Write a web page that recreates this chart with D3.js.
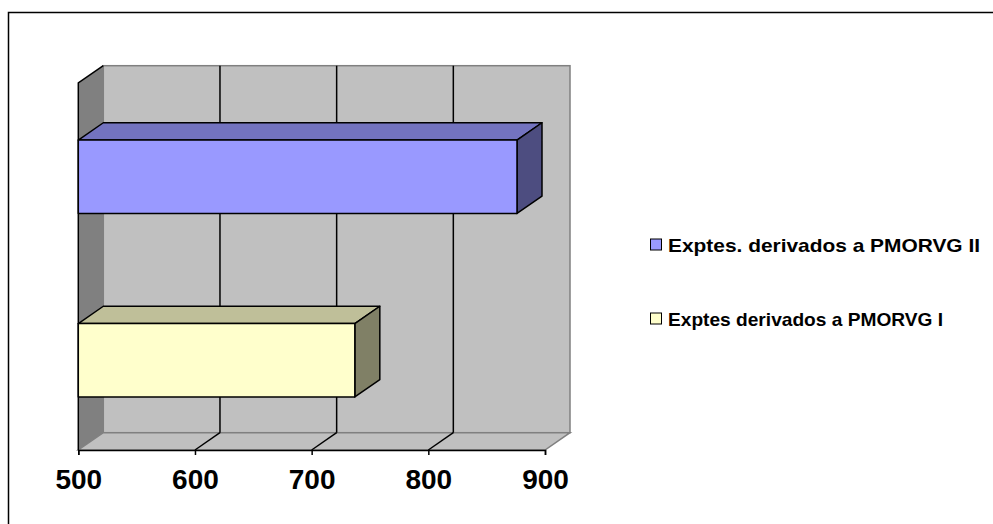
<!DOCTYPE html>
<html>
<head>
<meta charset="utf-8">
<script src="https://cdn.jsdelivr.net/npm/d3@7"></script>
<style>
  html, body { margin: 0; padding: 0; background: #fff; }
  svg { display: block; }
</style>
</head>
<body>
<svg id="chart" width="993" height="524"></svg>
<script>
// ---- data ----
const categories = ["Exptes. derivados a PMORVG II", "Exptes derivados a PMORVG I"];
const values = [876, 737];
const tickValues = [500, 600, 700, 800, 900];
const tickLabels = ["500", "600", "700", "800", "900"];
const legendLabels = ["Exptes. derivados a PMORVG II", "Exptes derivados a PMORVG I"];

// ---- styles ----
const frontColors = ["#9999ff", "#ffffcc"];
const topColors = ["#7373bf", "#bfbf99"];
const sideColors = ["#4d4d80", "#808066"];
const legendWidths = [312, 275];

const svg = d3.select("#chart");
const FONT = "'Liberation Sans', Arial, sans-serif";

const DX = 25, DY = -17.3;
const x = d3.scaleLinear().domain([500, 900]).range([78.3, 545]);
const y = d3.scaleBand().domain(categories).range([85, 452]).paddingInner(0.6).paddingOuter(0.3);
const yTop = 83, yBot = 450;

const g = svg.append("g");

// side (left) wall
g.append("polygon")
  .attr("points", [[x(500), yTop], [x(500) + DX, yTop + DY], [x(500) + DX, yBot + DY], [x(500), yBot]].map(p => p.join(",")).join(" "))
  .attr("fill", "#808080").attr("stroke", "none");

// back wall
g.append("rect")
  .attr("x", x(500) + DX).attr("y", yTop + DY)
  .attr("width", x(900) - x(500)).attr("height", yBot - yTop)
  .attr("fill", "#c0c0c0").attr("stroke", "#808080").attr("stroke-width", 1.5);

// floor
g.append("polygon")
  .attr("points", [[x(500), yBot], [x(500) + DX, yBot + DY], [x(900) + DX, yBot + DY], [x(900), yBot]].map(p => p.join(",")).join(" "))
  .attr("fill", "#c0c0c0").attr("stroke", "#808080").attr("stroke-width", 1.5);

// side wall left edges
g.append("path")
  .attr("d", `M${x(500) + DX},${yTop + DY} L${x(500)},${yTop} L${x(500)},${yBot}`)
  .attr("fill", "none").attr("stroke", "#000").attr("stroke-width", 1.5);

// gridlines on back wall and floor
const inner = tickValues.filter(v => v > 500 && v < 900);
g.selectAll("line.grid").data(inner).enter().append("line")
  .attr("x1", d => x(d) + DX).attr("x2", d => x(d) + DX)
  .attr("y1", yTop + DY).attr("y2", yBot + DY)
  .attr("stroke", "#000").attr("stroke-width", 1.5);
g.selectAll("line.fgrid").data(inner).enter().append("line")
  .attr("x1", d => x(d)).attr("x2", d => x(d) + DX)
  .attr("y1", yBot).attr("y2", yBot + DY)
  .attr("stroke", "#000").attr("stroke-width", 1.5);

// bars
categories.forEach((c, i) => {
  const x0 = x(500), x1 = x(values[i]);
  const y0 = y(c), y1 = y(c) + y.bandwidth();
  const bg = g.append("g").attr("stroke", "#000").attr("stroke-width", 1.5).attr("stroke-linejoin", "round");
  bg.append("polygon")
    .attr("points", [[x0, y0], [x0 + DX, y0 + DY], [x1 + DX, y0 + DY], [x1, y0]].map(p => p.join(",")).join(" "))
    .attr("fill", topColors[i]);
  bg.append("polygon")
    .attr("points", [[x1, y0], [x1 + DX, y0 + DY], [x1 + DX, y1 + DY], [x1, y1]].map(p => p.join(",")).join(" "))
    .attr("fill", sideColors[i]);
  bg.append("rect")
    .attr("x", x0).attr("y", y0).attr("width", x1 - x0).attr("height", y1 - y0)
    .attr("fill", frontColors[i]);
});

// x axis
const axis = d3.axisBottom(x).tickValues(tickValues).tickFormat((d, i) => tickLabels[i]).tickSize(5).tickPadding(14);
const ax = g.append("g").attr("transform", `translate(0,${yBot})`).call(axis);
ax.select(".domain").attr("stroke", "#000").attr("stroke-width", 1.5);
ax.selectAll(".tick line").attr("stroke", "#000").attr("stroke-width", 1.5);
ax.selectAll(".tick text")
  .attr("font-family", FONT).attr("font-weight", "bold").attr("font-size", 28)
  .attr("fill", "#000");

// legend
const leg = svg.append("g");
legendLabels.forEach((t, i) => {
  const cy = 245 + i * 74;
  leg.append("rect").attr("x", 650.5).attr("y", cy - 6).attr("width", 11).attr("height", 11)
    .attr("fill", frontColors[i]).attr("stroke", "#000").attr("stroke-width", 1);
  leg.append("text").attr("x", 668).attr("y", cy + 7)
    .attr("font-family", FONT).attr("font-weight", "bold").attr("font-size", 19)
    .attr("textLength", legendWidths[i]).attr("lengthAdjust", "spacingAndGlyphs")
    .attr("fill", "#000").text(t);
});

// outer frame
svg.append("rect").attr("x", 8.5).attr("y", 12.5).attr("width", 1000).attr("height", 600)
  .attr("fill", "none").attr("stroke", "#000").attr("stroke-width", 1.5);
</script>
</body>
</html>
